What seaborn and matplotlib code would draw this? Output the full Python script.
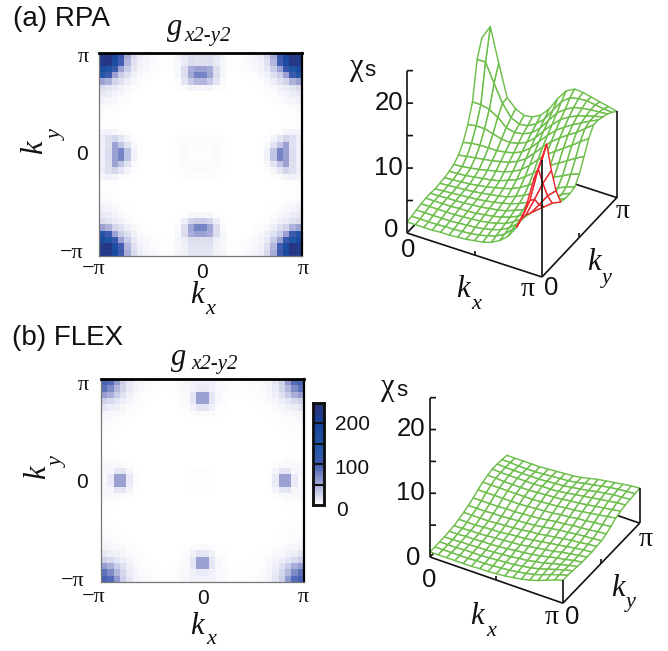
import numpy as np
import matplotlib
matplotlib.use("Agg")
import matplotlib.pyplot as plt
from matplotlib.colors import LinearSegmentedColormap, to_rgba
from mpl_toolkits.mplot3d import proj3d
import seaborn as sns

sns.set_style("white")
W, H = 668, 651
SANS = "Liberation Sans"
SERIF = "Liberation Serif"

# ---- pairing amplitude, top-left quadrant (rows from k_y=pi, cols from k_x=-pi)
RPA_QUAD = [
 [220,230,180,100, 48, 22, 10,  6,  4,  2,  1,  1,  6, 14, 20, 18],
 [225,235,170, 98, 42, 18,  8,  5,  3,  2,  1,  1,  5, 12, 20, 18],
 [175,150,108, 55, 30, 13,  6,  4,  2,  1,  0,  1,  5, 20, 48, 55],
 [140,105, 55, 30, 18,  9,  4,  2,  1,  0,  0,  0,  5, 20, 52, 74],
 [ 55, 45, 25, 18, 10,  5,  2,  1,  0,  0,  0,  0,  3, 15, 32, 42],
 [ 20, 16, 12,  8,  4,  2,  1,  0,  0,  0,  0,  0,  1,  3,  6,  6],
 [ 13, 11,  7,  5,  2,  1,  0,  0,  0,  0,  0,  0,  0,  0,  0,  0],
 [  8,  6,  4,  2,  1,  0,  0,  0,  0,  0,  0,  0,  0,  0,  0,  0],
 [  4,  3,  2,  1,  0,  0,  0,  0,  0,  0,  0,  0,  0,  0,  0,  0],
 [  2,  1,  1,  0,  0,  0,  0,  0,  0,  0,  0,  0,  0,  0,  0,  0],
 [  1,  1,  0,  0,  0,  0,  0,  0,  0,  0,  0,  0,  0,  0,  0,  0],
 [  1,  1,  1,  0,  0,  0,  0,  0,  0,  0,  0,  0,  0,  0,  0,  0],
 [  6,  8,  6,  3,  1,  0,  0,  0,  0,  0,  0,  0,  0,  1,  1,  1],
 [ 10, 18, 25, 15,  6,  2,  0,  0,  0,  0,  0,  0,  1,  2,  3,  3],
 [  8, 18, 55, 34, 16,  4,  1,  0,  0,  0,  0,  0,  1,  3,  2,  2],
 [  8, 20, 55, 74, 35,  8,  1,  0,  0,  0,  0,  0,  1,  3,  2,  1],
]
# bottom-centre block of (a): rows counted up from k_y=-pi, cols 13..15
RPA_BOTTOM_CENTRE = [
 [  8, 15, 15],
 [  8, 16, 16],
 [ 10, 20, 20],
 [ 20, 48, 55],
 [ 20, 52, 74],
 [ 10, 25, 30],
 [  2,  5,  5],
]
FLEX_QUAD = [
 [ 95, 90, 60, 28, 15,  7,  4,  3,  2,  2,  1,  1,  3,  5,  8,  8],
 [ 85, 70, 42, 25, 12,  6,  3,  2,  1,  1,  1,  1,  3,  4,  8, 12],
 [ 58, 48, 30, 18,  9,  4,  2,  1,  1,  0,  0,  1,  2,  4, 15, 55],
 [ 28, 22, 15, 10,  6,  3,  1,  1,  0,  0,  0,  0,  2,  4, 15, 55],
 [ 15, 11,  8,  5,  3,  1,  1,  0,  0,  0,  0,  0,  1,  2,  8, 15],
 [  6,  5,  4,  3,  1,  1,  0,  0,  0,  0,  0,  0,  0,  1,  2,  3],
 [  4,  3,  2,  1,  1,  0,  0,  0,  0,  0,  0,  0,  0,  0,  0,  0],
 [  2,  2,  1,  1,  0,  0,  0,  0,  0,  0,  0,  0,  0,  0,  0,  0],
 [  1,  1,  1,  0,  0,  0,  0,  0,  0,  0,  0,  0,  0,  0,  0,  0],
 [  1,  1,  0,  0,  0,  0,  0,  0,  0,  0,  0,  0,  0,  0,  0,  0],
 [  0,  0,  0,  0,  0,  0,  0,  0,  0,  0,  0,  0,  0,  0,  0,  0],
 [  0,  0,  0,  0,  0,  0,  0,  0,  0,  0,  0,  0,  0,  0,  0,  0],
 [  1,  1,  1,  0,  0,  0,  0,  0,  0,  0,  0,  0,  0,  0,  0,  0],
 [  3,  4,  4,  3,  1,  0,  0,  0,  0,  0,  0,  0,  0,  0,  0,  0],
 [  4,  5, 15, 15,  6,  1,  0,  0,  0,  0,  0,  0,  0,  0,  1,  1],
 [  3, 12, 55, 55, 12,  2,  0,  0,  0,  0,  0,  0,  0,  0,  1,  1],
]
# ---- spin susceptibility, rows k_y index 0..16, cols k_x index 0..16
CHI_RPA = [
 [ 1.7, 1.7, 1.7, 1.7, 1.8, 1.8, 1.9, 2.0, 2.2, 2.4, 2.8, 3.5, 4.6, 6.4, 9.5,14.5,18.0],
 [ 1.8, 1.8, 1.8, 1.8, 1.9, 1.9, 2.0, 2.1, 2.3, 2.6, 3.0, 3.7, 4.9, 6.9,10.2,15.5,19.7],
 [ 2.0, 2.0, 2.0, 2.0, 2.0, 2.1, 2.2, 2.3, 2.5, 2.8, 3.2, 3.9, 5.0, 6.8, 9.6,12.5,14.9],
 [ 2.2, 2.2, 2.2, 2.2, 2.2, 2.3, 2.4, 2.5, 2.7, 3.0, 3.4, 4.1, 5.0, 6.3, 8.0, 9.8,11.0],
 [ 2.3, 2.3, 2.3, 2.3, 2.4, 2.4, 2.5, 2.7, 2.9, 3.2, 3.6, 4.2, 5.0, 5.9, 6.9, 7.9, 8.5],
 [ 2.3, 2.3, 2.4, 2.4, 2.5, 2.6, 2.7, 2.9, 3.1, 3.4, 3.9, 4.4, 5.1, 5.8, 6.6, 7.6, 8.3],
 [ 2.2, 2.3, 2.4, 2.5, 2.6, 2.7, 2.9, 3.1, 3.4, 3.7, 4.2, 4.8, 5.4, 6.1, 6.8, 7.7, 8.3],
 [ 2.3, 2.4, 2.5, 2.6, 2.7, 2.9, 3.1, 3.3, 3.6, 4.1, 4.7, 5.4, 6.1, 6.8, 7.5, 8.1, 8.5],
 [ 2.4, 2.5, 2.6, 2.7, 2.9, 3.1, 3.4, 3.7, 4.1, 4.7, 5.5, 6.4, 7.2, 8.0, 8.6, 9.3, 9.8],
 [ 2.6, 2.7, 2.8, 3.0, 3.2, 3.4, 3.7, 4.2, 4.7, 5.6, 6.6, 7.7, 8.6, 9.4,10.2,11.0,11.7],
 [ 2.9, 3.0, 3.2, 3.4, 3.7, 4.0, 4.3, 4.8, 5.5, 6.6, 7.9, 9.1,10.0,10.9,11.8,12.8,13.7],
 [ 3.6, 3.8, 4.0, 4.2, 4.4, 4.7, 5.0, 5.6, 6.4, 7.7, 9.1,10.3,11.3,12.2,13.0,14.0,15.0],
 [ 4.8, 5.1, 5.2, 5.2, 5.2, 5.4, 5.7, 6.3, 7.3, 8.7,10.1,11.3,12.2,13.0,13.7,14.4,15.0],
 [ 6.8, 7.0, 7.0, 6.6, 6.2, 6.1, 6.4, 7.0, 8.1, 9.6,11.0,12.2,13.0,13.6,14.0,14.4,14.7],
 [ 9.5, 9.5, 9.2, 8.4, 7.2, 6.9, 7.1, 7.7, 8.8,10.4,12.0,13.0,13.7,14.0,14.2,14.3,14.4],
 [15.3,15.3,12.5, 9.8, 8.0, 7.4, 7.6, 8.3, 9.5,11.3,13.0,14.0,14.3,14.4,14.2,14.0,13.9],
 [17.8,20.0,14.8, 9.9, 8.6, 8.0, 8.2, 8.9,10.3,12.3,13.9,14.6,14.5,14.2,13.9,13.6,13.3],
]
CHI_FLEX = [
 [0.8,0.8,0.8,0.8,0.8,0.8,0.9,0.9,1.0,1.1,1.3,1.5,1.8,2.2,2.7,3.2,3.6],
 [0.8,0.8,0.8,0.8,0.8,0.9,0.9,1.0,1.1,1.2,1.4,1.6,1.9,2.3,2.8,3.2,3.6],
 [0.8,0.8,0.8,0.9,0.9,0.9,1.0,1.1,1.2,1.3,1.5,1.7,2.0,2.4,2.8,3.2,3.5],
 [0.8,0.8,0.9,0.9,1.0,1.0,1.1,1.2,1.3,1.5,1.6,1.9,2.1,2.5,2.8,3.1,3.4],
 [0.9,0.9,1.0,1.0,1.1,1.1,1.2,1.3,1.5,1.6,1.8,2.0,2.3,2.6,2.8,3.1,3.3],
 [1.0,1.0,1.1,1.1,1.2,1.3,1.4,1.5,1.6,1.8,2.0,2.2,2.4,2.7,2.9,3.1,3.3],
 [1.2,1.2,1.2,1.3,1.4,1.4,1.6,1.7,1.8,2.0,2.2,2.4,2.6,2.8,3.0,3.2,3.3],
 [1.5,1.5,1.5,1.5,1.6,1.7,1.8,1.9,2.1,2.2,2.4,2.6,2.8,3.0,3.1,3.3,3.4],
 [1.8,1.8,1.8,1.9,1.9,2.0,2.1,2.2,2.3,2.5,2.7,2.9,3.0,3.2,3.3,3.4,3.5],
 [2.2,2.2,2.2,2.2,2.3,2.3,2.4,2.5,2.6,2.8,3.0,3.1,3.3,3.4,3.5,3.7,3.8],
 [2.7,2.7,2.7,2.7,2.7,2.7,2.8,2.9,3.0,3.1,3.3,3.4,3.6,3.7,3.9,4.0,4.2],
 [3.1,3.1,3.1,3.1,3.1,3.1,3.1,3.2,3.3,3.4,3.6,3.7,3.9,4.1,4.3,4.5,4.7],
 [3.4,3.4,3.3,3.3,3.3,3.3,3.4,3.5,3.6,3.7,3.9,4.0,4.2,4.4,4.6,4.8,5.0],
 [3.6,3.5,3.5,3.5,3.5,3.5,3.6,3.6,3.7,3.9,4.1,4.3,4.5,4.7,4.9,5.1,5.2],
 [3.6,3.5,3.5,3.5,3.5,3.5,3.6,3.7,3.8,4.0,4.2,4.4,4.7,4.9,5.1,5.2,5.3],
 [3.5,3.5,3.4,3.4,3.4,3.5,3.6,3.7,3.8,4.0,4.3,4.5,4.8,5.0,5.2,5.3,5.4],
 [3.4,3.4,3.4,3.4,3.4,3.5,3.6,3.7,3.8,4.0,4.3,4.6,4.8,5.0,5.2,5.4,5.5],
]
CBAR_TICKS = ["200", "100", "0"]
CMAP_VALUES = [0, 50, 100, 150, 200, 250]
CMAP_COLORS = ["#ffffff", "#a5aad7", "#3e5aaf", "#1e55a5", "#19419b", "#2d3278"]

GREEN = "#6dbe4b"
RED = "#ee2a30"
cmap = LinearSegmentedColormap.from_list("gap", [(v / 250, c) for v, c in zip(CMAP_VALUES, CMAP_COLORS)])

fig = plt.figure(figsize=(W / 100, H / 100), dpi=100)


def T(x, y, s, size=14, family=SANS, style="normal", ha="center", rotation=0):
    fig.text(x / W, 1 - y / H, s, fontsize=size, family=family, style=style,
             ha=ha, va="center", rotation=rotation, color="#111111")


def full_matrix(quad):
    q = np.array(quad, float)
    top = np.hstack([q, q[:, ::-1]])
    return np.vstack([top, top[::-1]])


def heat(matrix, left, top, right, bottom, cbar_ax=None):
    ax = fig.add_axes([left / W, 1 - bottom / H, (right - left) / W, (bottom - top) / H])
    sns.heatmap(matrix, ax=ax, cmap=cmap, vmin=0, vmax=250, xticklabels=False, yticklabels=False,
                cbar=cbar_ax is not None, cbar_ax=cbar_ax, linewidths=0, rasterized=True)
    ax.tick_params(length=0)
    for name, col, lw in (("top", "#000000", 2.0), ("right", "#000000", 1.6),
                          ("left", "#777777", 0.9), ("bottom", "#777777", 0.9)):
        ax.spines[name].set_visible(True)
        ax.spines[name].set_color(col)
        ax.spines[name].set_linewidth(lw)
    return ax


def measure(ax, x, y, z):
    fig.canvas.draw()
    px, py, _ = proj3d.proj_transform(x, y, z, ax.get_proj())
    return ax.transData.transform((px, py))


def surface(chi, origin, kx_end, z_aspect, elev, azim, red_cells=False):
    """origin, kx_end: target pixels of (0,0,0) and (pi,0,0)."""
    z = np.array(chi, float)
    k = np.linspace(0, np.pi, z.shape[0])
    X, Y = np.meshgrid(k, k)
    ax = fig.add_axes([0.45, 0.1, 0.55, 0.55], projection="3d", computed_zorder=False)
    ax.patch.set_alpha(0)
    ax.set_proj_type("ortho")
    ax.view_init(elev=elev, azim=azim)
    ax.set_xlim(0, np.pi); ax.set_ylim(0, np.pi); ax.set_zlim(0, 25)
    ax.set_axis_off()
    ax.set_box_aspect((1, 1, z_aspect), zoom=1.0)
    a, b = measure(ax, 0, 0, 0), measure(ax, np.pi, 0, 0)
    target = np.hypot(kx_end[0] - origin[0], kx_end[1] - origin[1])
    ax.set_box_aspect((1, 1, z_aspect), zoom=target / np.hypot(*(b - a)))
    a = measure(ax, 0, 0, 0)
    p = ax.get_position()
    ax.set_position([p.x0 + (origin[0] - a[0]) / W, p.y0 + ((H - origin[1]) - a[1]) / H, p.width, p.height])

    line = dict(color="#111111", lw=1.2, solid_capstyle="butt")
    ax.plot([0, 0], [0, np.pi], [0, 0], zorder=1, **line)
    ax.plot([0, np.pi], [np.pi, np.pi], [0, 0], zorder=1, **line)
    surf = ax.plot_surface(X, Y, z, rstride=1, cstride=1, color="white", shade=False,
                           edgecolor=GREEN, linewidth=1.05, antialiased=True, zorder=2)
    if red_cells:
        n = z.shape[0] - 1
        edges = []
        for j in range(n):
            for i in range(n):
                edges.append(to_rgba(RED) if (i >= 13 and j <= 3) else to_rgba(GREEN))
        surf.set_edgecolor(edges)
    ax.plot([0, np.pi], [0, 0], [0, 0], zorder=3, **line)
    ax.plot([np.pi, np.pi], [0, np.pi], [0, 0], zorder=3, **line)
    ax.plot([0, 0], [0, 0], [0, 25], zorder=3, **line)
    ax.plot([np.pi, np.pi], [0, 0], [0, z[0, -1]], zorder=3, **line)
    ax.plot([np.pi, np.pi], [np.pi, np.pi], [0, z[-1, -1]], zorder=3, **line)
    tx, ty = 0.107, 0.060
    for v in (5, 10, 15, 20, 25):
        ax.plot([0, tx], [0, ty], [v, v], zorder=3, **line)
    ax.plot([np.pi / 2, np.pi / 2], [0, 0], [0, 0.6], zorder=3, **line)
    ax.plot([np.pi, np.pi], [np.pi / 2, np.pi / 2], [0, 0.6], zorder=3, **line)
    return ax


# ---- panel (a)
rpa = full_matrix(RPA_QUAD)
blk = np.array(RPA_BOTTOM_CENTRE, float)
for r, row in enumerate(blk):
    rr = 31 - r
    rpa[rr, 13:16] = row
    rpa[rr, 16:19] = row[::-1]
heat(rpa, 99, 53, 302, 256)
T(13, 19, "(a) RPA", size=20, ha="left")
T(175, 27, "g", size=22, family=SERIF, style="italic")
T(208, 37, "x2-y2", size=15, family=SERIF, style="italic")
T(83, 57, "π", size=16, family=SERIF)
T(82, 155, "0", size=15)
T(72, 254, "−π", size=16, family=SERIF)
T(94, 270, "−π", size=16, family=SERIF)
T(202, 272, "0", size=15)
T(303, 270, "π", size=16, family=SERIF)
T(197, 295, "k", size=22, family=SERIF, style="italic")
T(210, 310, "x", size=16, family=SERIF, style="italic")
T(35, 147, "k", size=22, family=SERIF, style="italic", rotation=90)
T(57, 135, "y", size=16, family=SERIF, style="italic", rotation=90)

surface(CHI_RPA, (407, 233), (542, 277), 1.30, 36, -61, red_cells=True)
T(357, 67, "χ", size=22, family=SERIF)
T(370, 70, "s", size=16)
T(403, 103, "20", size=18.5, ha="right")
T(403, 168, "10", size=18.5, ha="right")
T(398, 230, "0", size=18.5, ha="right")
T(408, 250, "0", size=18.5)
T(528, 290, "π", size=20, family=SERIF)
T(551, 288, "0", size=18.5)
T(623, 212, "π", size=20, family=SERIF)
T(463, 290, "k", size=22, family=SERIF, style="italic")
T(476, 305, "x", size=16, family=SERIF, style="italic")
T(594, 263, "k", size=22, family=SERIF, style="italic")
T(607, 278, "y", size=16, family=SERIF, style="italic")

# ---- panel (b)
cax = fig.add_axes([313 / W, 1 - 505 / H, 11 / W, 102 / H])
heat(full_matrix(FLEX_QUAD), 101, 379, 304, 582, cbar_ax=cax)
cax.tick_params(length=0, labelright=False, labelleft=False)
for v in (50, 100, 150, 200):
    cax.axhline(v, color="#111111", lw=1.5)
for s in cax.spines.values():
    s.set_visible(True); s.set_color("#111111"); s.set_linewidth(1.8)
T(352, 425, CBAR_TICKS[0], size=15)
T(352, 468, CBAR_TICKS[1], size=15)
T(342, 511, CBAR_TICKS[2], size=15)

T(12, 338, "(b) FLEX", size=20, ha="left")
T(179, 358, "g", size=22, family=SERIF, style="italic")
T(214, 365, "x2-y2", size=15, family=SERIF, style="italic")
T(83, 385, "π", size=16, family=SERIF)
T(82, 482, "0", size=15)
T(73, 582, "−π", size=16, family=SERIF)
T(94, 597, "−π", size=16, family=SERIF)
T(203, 599, "0", size=15)
T(303, 597, "π", size=16, family=SERIF)
T(197, 627, "k", size=22, family=SERIF, style="italic")
T(211, 640, "x", size=16, family=SERIF, style="italic")
T(38, 472, "k", size=22, family=SERIF, style="italic", rotation=90)
T(58, 462, "y", size=16, family=SERIF, style="italic", rotation=90)

surface(CHI_FLEX, (430, 557), (563, 603), 1.30, 37, -60)
T(388, 388, "χ", size=22, family=SERIF)
T(402, 391, "s", size=16)
T(425, 429, "20", size=18.5, ha="right")
T(425, 493, "10", size=18.5, ha="right")
T(420, 558, "0", size=18.5, ha="right")
T(429, 580, "0", size=18.5)
T(552, 618, "π", size=20, family=SERIF)
T(572, 617, "0", size=18.5)
T(646, 540, "π", size=20, family=SERIF)
T(477, 617, "k", size=22, family=SERIF, style="italic")
T(491, 632, "x", size=16, family=SERIF, style="italic")
T(618, 588, "k", size=22, family=SERIF, style="italic")
T(631, 603, "y", size=16, family=SERIF, style="italic")

fig.savefig("out.png", dpi=100)
